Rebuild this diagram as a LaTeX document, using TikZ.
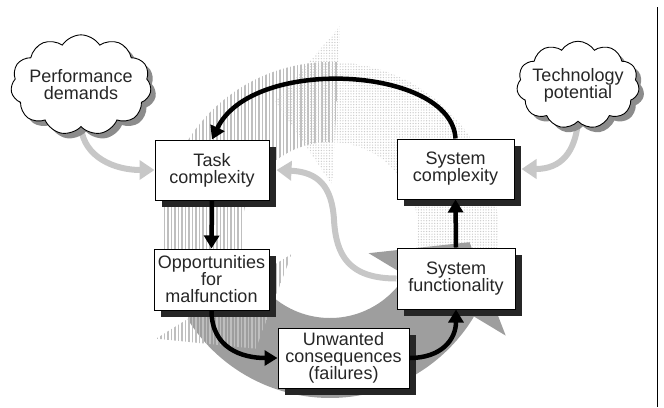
\documentclass[tikz,border=0pt]{standalone}
\usepackage{fontspec}
\setmainfont{Liberation Sans}
\usetikzlibrary{arrows.meta,shapes.symbols,shadows,patterns.meta}

\pgfdeclarelayer{bg}
\pgfsetlayers{bg,main}

% cycle ring: centre (330,230), inner radius 88, outer radius 168
\newcommand\ringsector[3]{%
  \path[#1] plot[domain=#2:#3,samples=60] ({330+168*cos(\x)},{230-168*sin(\x)})
    -- plot[domain=#3:#2,samples=60] ({330+88*cos(\x)},{230-88*sin(\x)}) -- cycle;}
% arrow head of a ring segment: base at angle #2, tip at angle #3
\newcommand\ringhead[3]{%
  \path[#1] ({330+205*cos(#2)},{230-205*sin(#2)})
    -- ({330+140*cos(#3)},{230-140*sin(#3)})
    -- ({330+45*cos(#2)},{230-45*sin(#2)}) -- cycle;}

\tikzset{
  labelfont/.style={font=\fontsize{18bp}{17bp}\selectfont},
  stagebox/.style={labelfont, draw=black, line width=1bp, fill=white,
    text=black!85, align=center, inner sep=0pt,
    general shadow={fill=black!85, shadow xshift=7bp, shadow yshift=-7bp}},
  idea/.style={labelfont, cloud, cloud puffs=11, cloud puff arc=115, aspect=1.6,
    draw=black, line width=0.9bp, fill=white, text=black!85, align=center,
    inner xsep=-4.5bp, inner ysep=-5.5bp,
    general shadow={fill=black!45, shadow xshift=5bp, shadow yshift=-5bp}},
  influence/.style={draw=black!22, line width=6bp,
    -{Triangle[length=15bp,width=19bp]}},
  causal/.style={draw=black, line width=4.5bp,
    -{Triangle[length=13bp,width=15bp]}},
  ringstripes/.style={pattern={Lines[angle=90,distance=3.5bp,line width=1.8bp]},
    pattern color=black!25},
  ringdots/.style={pattern={Dots[distance=2.7bp,radius=0.7bp]},
    pattern color=black!20},
  ringsolid/.style={fill=black!38},
}

\begin{document}
\begin{tikzpicture}[x=1bp,y=-1bp]
\useasboundingbox (0,0) rectangle (664,407);

% stages of the cycle
\node[stagebox, minimum width=114bp, minimum height=60bp] (task) at (212,170) {Task\\complexity};
\node[stagebox, minimum width=115bp, minimum height=61bp] (opp) at (211.5,279.5) {Opportunities\\for\\malfunction};
\node[stagebox, minimum width=131bp, minimum height=60bp] (unw) at (343.5,358) {Unwanted\\consequences\\(failures)};
\node[stagebox, minimum width=118bp, minimum height=61bp] (sfun) at (456,278.5) {System\\functionality};
\node[stagebox, minimum width=117bp, minimum height=60bp] (scom) at (455.5,169) {System\\complexity};

% external drivers
\node[idea] (perf) at (81,85) {Performance\\demands};
\node[idea] (tech) at (578,85) {Technology\\potential};

\coordinate (swing) at (334,220);

\begin{pgfonlayer}{bg}
  % background ring of three curved arrows (counter-clockwise)
  \ringsector{ringstripes}{87}{212}
  \ringsector{ringdots}{-31}{87}
  \ringsector{ringsolid}{212}{329}
  \ringhead{ringstripes}{212}{238}
  \ringhead{ringdots}{87}{113}
  \ringhead{ringsolid}{329}{355}

  % light grey influences
  \draw[influence] (perf.south) .. controls +(3,30) and +(-40,0) .. (task.west);
  \draw[influence] (tech.south) .. controls +(-3,30) and +(40,0) .. ([xshift=7bp]scom.east);
  \draw[influence] (sfun.west) .. controls +(-48,0) and (336,255) .. (swing)
    .. controls (332,186) and (318,172) .. ([xshift=7bp]task.east);
\end{pgfonlayer}

% main causal loop
\draw[causal] (scom.north) .. controls +(-4,-72) and (252,55) .. (task.north);
\draw[causal] (task.south) -- (opp.north);
\draw[causal] (opp.south) .. controls +(0,38) and +(-35,0) .. (unw.west);
\draw[causal] (unw.east) .. controls +(32,0) and +(0,30) .. (sfun.south);
\draw[causal] (sfun.north) -- (scom.south);

% frame edge on the right
\draw[line width=1.2bp] (657.5,7) -- (657.5,407);
\end{tikzpicture}
\end{document}
